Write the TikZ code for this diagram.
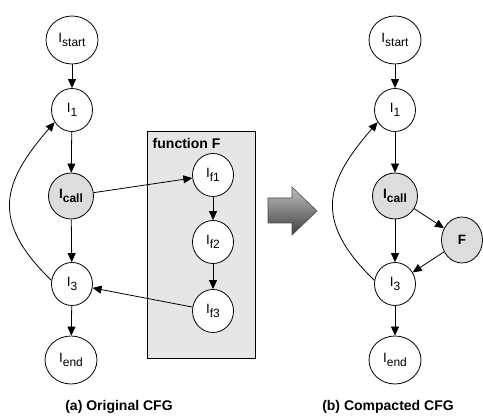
\documentclass[tikz,border=0pt]{standalone}
\usepackage{fontspec}
\setmainfont{Liberation Sans}
\usetikzlibrary{shapes.geometric,arrows.meta}
\definecolor{boxgray}{HTML}{E6E6E6}
\definecolor{callgray}{HTML}{DDDDDD}
\newcommand{\isub}[2]{#1\raisebox{-0.55ex}{\fontsize{12}{12}\selectfont #2}}

\begin{document}
\begin{tikzpicture}[x=1pt,y=-1pt,line width=0.8pt,
    >={Triangle[length=9pt,width=8pt]},
    blk/.style={ellipse,draw,fill=white,inner sep=0pt,minimum width=41pt,minimum height=43pt,font=\fontsize{13.5}{13.5}\selectfont},
    bigblk/.style={blk,minimum width=52pt,minimum height=48pt},
    callblk/.style={blk,fill=callgray,minimum width=45pt,minimum height=46pt,font=\fontsize{13.5}{13.5}\selectfont\bfseries},
    caption/.style={font=\fontsize{14}{14}\selectfont\bfseries}]
  \useasboundingbox (0,0) rectangle (483,417);

  % (a) original CFG
  \node[bigblk] (astart) at (72,40) {\isub{I}{start}};
  \node[blk] (a1) at (72,110) {\isub{I}{1}};
  \node[callblk] (acall) at (71,196) {\isub{I}{call}};
  \node[blk] (a3) at (72,284) {\isub{I}{3}};
  \node[bigblk] (aend) at (71,360) {\isub{I}{end}};

  \draw[->] (astart) -- (a1);
  \draw[->] (a1) -- (acall);
  \draw[->] (acall) -- (a3);
  \draw[->] (a3) -- (aend);
  \draw[->] (a3.170) .. controls +(-62,-60) and +(-52,60) .. (a1.215);

  % function F
  \draw[fill=boxgray] (147,131) rectangle (255,358);
  \node[anchor=west,font=\fontsize{14}{14}\selectfont\bfseries] (ftitle) at (149,143) {function F};
  \node[blk] (f1) at (213,175) {\isub{I}{f1}};
  \node[blk] (f2) at (213,242) {\isub{I}{f2}};
  \node[blk] (f3) at (213,311) {\isub{I}{f3}};

  \draw[->] (f1) -- (f2);
  \draw[->] (f2) -- (f3);
  \draw[->] (acall) -- (f1);
  \draw[->] (f3) -- (a3);

  % big arrow
  \shade[top color=black!25,bottom color=black!75,draw=black!70,line width=0.6pt]
    (268,198) -- (292,198) -- (292,187) -- (317,211) -- (292,235) -- (292,223) -- (268,223) -- cycle;

  % (b) compacted CFG
  \node[bigblk] (bstart) at (395,40) {\isub{I}{start}};
  \node[blk] (b1) at (395,110) {\isub{I}{1}};
  \node[callblk] (bcall) at (395,196) {\isub{I}{call}};
  \node[callblk,minimum width=41pt] (bf) at (462,240) {F};
  \node[blk] (b3) at (395,284) {\isub{I}{3}};
  \node[bigblk] (bend) at (395,360) {\isub{I}{end}};

  \draw[->] (bstart) -- (b1);
  \draw[->] (b1) -- (bcall);
  \draw[->] (bcall) -- (b3);
  \draw[->] (b3) -- (bend);
  \draw[->] (bcall) -- (bf);
  \draw[->] (bf) -- (b3);
  \draw[->] (b3.170) .. controls +(-62,-60) and +(-52,60) .. (b1.215);

  \node[caption] (capa) at (119,407) {(a) Original CFG};
  \node[caption] (capb) at (388,407) {(b) Compacted CFG};
\end{tikzpicture}
\end{document}
